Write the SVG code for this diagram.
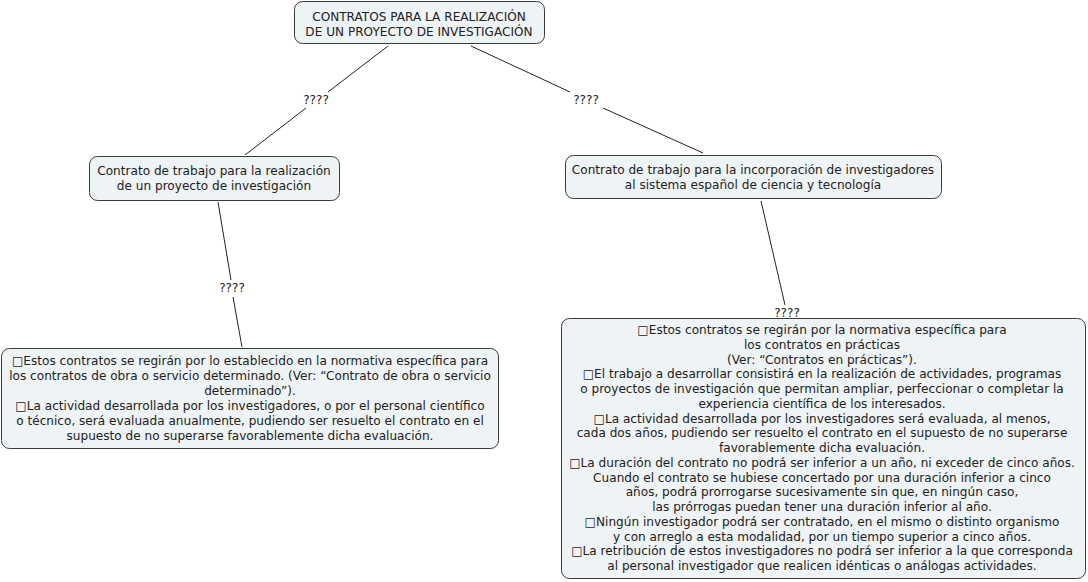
<svg xmlns="http://www.w3.org/2000/svg" width="1088" height="582" viewBox="0 0 1088 582">
<style>
.box{fill:#eef3f5;stroke:#3a3a3a;stroke-width:1}
text{font-family:"DejaVu Sans",Verdana,sans-serif;font-size:12.1px;fill:#222;text-anchor:middle}
.c line{stroke:#222;stroke-width:1}
</style>
<rect width="1088" height="582" fill="#ffffff"/>
<g class="c" id="connectors">
<line x1="388" y1="46" x2="328" y2="92"/>
<line x1="306" y1="108" x2="245" y2="155"/>
<text x="316" y="104">????</text>
<line x1="471" y1="46" x2="570" y2="92"/>
<line x1="603" y1="108" x2="703" y2="153"/>
<text x="586" y="104">????</text>
<line x1="218" y1="202" x2="231" y2="280"/>
<line x1="233" y1="297" x2="242" y2="347"/>
<text x="232" y="292">????</text>
<line x1="761" y1="201" x2="785" y2="305"/>
<text x="787" y="317">????</text>
</g>
<g id="root">
<rect class="box" x="294.5" y="1.5" width="250" height="42" rx="8"/>
<text x="419" y="21">CONTRATOS PARA LA REALIZACIÓN</text>
<text x="419" y="36">DE UN PROYECTO DE INVESTIGACIÓN</text>
</g>
<g id="left">
<rect class="box" x="89.5" y="156.5" width="250" height="44" rx="8"/>
<text x="214" y="175">Contrato de trabajo para la realización</text>
<text x="214" y="190">de un proyecto de investigación</text>
</g>
<g id="right">
<rect class="box" x="565.5" y="155.5" width="376" height="43" rx="8"/>
<text x="753" y="174">Contrato de trabajo para la incorporación de investigadores</text>
<text x="753" y="189">al sistema español de ciencia y tecnología</text>
</g>
<g id="leftleaf">
<rect class="box" x="1.5" y="348.5" width="497" height="100" rx="8"/>
<text x="250" y="365">□Estos contratos se regirán por lo establecido en la normativa específica para</text>
<text x="250" y="380">los contratos de obra o servicio determinado. (Ver: “Contrato de obra o servicio</text>
<text x="250" y="395">determinado”).</text>
<text x="250" y="410">□La actividad desarrollada por los investigadores, o por el personal científico</text>
<text x="250" y="425">o técnico, será evaluada anualmente, pudiendo ser resuelto el contrato en el</text>
<text x="250" y="440">supuesto de no superarse favorablemente dicha evaluación.</text>
</g>
<g id="rightleaf">
<rect class="box" x="561.5" y="318.5" width="524" height="260" rx="8"/>
<text x="822" y="334">□Estos contratos se regirán por la normativa específica para</text>
<text x="822" y="348.75">los contratos en prácticas</text>
<text x="822" y="363.5">(Ver: “Contratos en prácticas”).</text>
<text x="822" y="378.25">□El trabajo a desarrollar consistirá en la realización de actividades, programas</text>
<text x="822" y="393">o proyectos de investigación que permitan ampliar, perfeccionar o completar la</text>
<text x="822" y="407.75">experiencia científica de los interesados.</text>
<text x="822" y="422.5">□La actividad desarrollada por los investigadores será evaluada, al menos,</text>
<text x="822" y="437.25">cada dos años, pudiendo ser resuelto el contrato en el supuesto de no superarse</text>
<text x="822" y="452">favorablemente dicha evaluación.</text>
<text x="822" y="466.75">□La duración del contrato no podrá ser inferior a un año, ni exceder de cinco años.</text>
<text x="822" y="481.5">Cuando el contrato se hubiese concertado por una duración inferior a cinco</text>
<text x="822" y="496.25">años, podrá prorrogarse sucesivamente sin que, en ningún caso,</text>
<text x="822" y="511">las prórrogas puedan tener una duración inferior al año.</text>
<text x="822" y="525.75">□Ningún investigador podrá ser contratado, en el mismo o distinto organismo</text>
<text x="822" y="540.5">y con arreglo a esta modalidad, por un tiempo superior a cinco años.</text>
<text x="822" y="555.25">□La retribución de estos investigadores no podrá ser inferior a la que corresponda</text>
<text x="822" y="570">al personal investigador que realicen idénticas o análogas actividades.</text>
</g>
</svg>
